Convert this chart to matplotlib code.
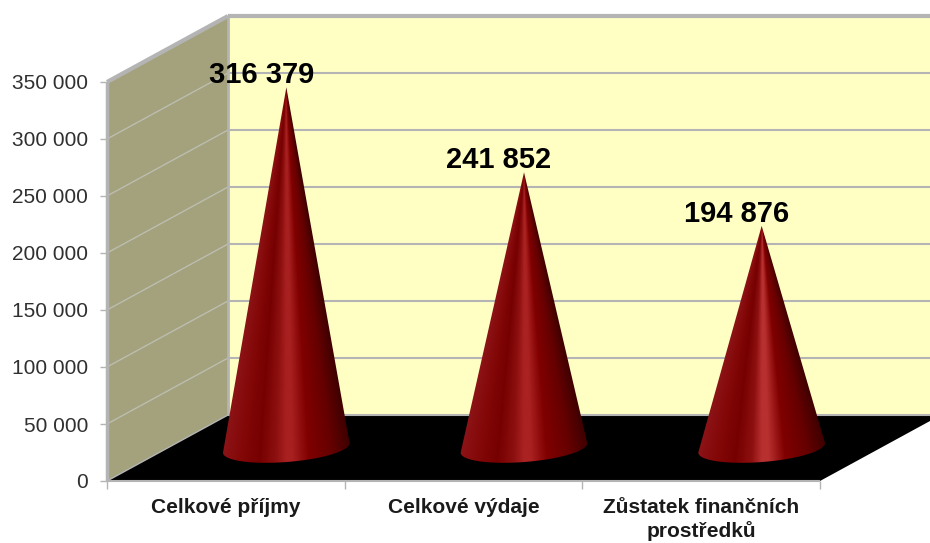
import numpy as np
import matplotlib
matplotlib.use('Agg')
import matplotlib.pyplot as plt
from matplotlib.patches import Polygon
from matplotlib.colors import to_rgb

# [1] Data
categories = ['Celkové příjmy', 'Celkové výdaje', 'Zůstatek finančních\nprostředků']
values = [316379, 241852, 194876]
value_labels = ['316 379', '241 852', '194 876']
y_ticks = [0, 50000, 100000, 150000, 200000, 250000, 300000, 350000]
y_tick_labels = ['0', '50 000', '100 000', '150 000', '200 000', '250 000', '300 000', '350 000']
highlights = ['#a82020', '#ab2222', '#b83030']

plt.rcParams['font.family'] = ['Liberation Sans', 'DejaVu Sans']

# [2] Axes = the front plane of the fake 3D box
W, H = 930, 543
fig = plt.figure(figsize=(W / 100, H / 100), dpi=100)
ax = fig.add_axes([107 / W, 1 - 481 / H, 713 / W, 399 / H])
ax.patch.set_visible(False)
for s in ax.spines.values():
    s.set_visible(False)

# data units per pixel
ux = 3 / 713
uy = 350000 / 399
# depth of the box
dx = 121 * ux
dy = 66 * uy
top = y_ticks[-1]

grey = '#b4b4b4'

# [3] Walls and floor
ax.fill([dx, 3 + dx, 3 + dx, dx], [dy, dy, top + dy, top + dy], color='#ffffc4', lw=0, zorder=1, clip_on=False)
ax.fill([0, dx, dx, 0], [0, dy, top + dy, top], color='#a3a27c', lw=0, zorder=1, clip_on=False)
ax.fill([0, 3, 3 + dx, dx], [0, 0, dy, dy], color='black', lw=0, zorder=2, clip_on=False)


def edge(xs, ys, lw, color=grey):
    ax.plot(xs, ys, color=color, lw=lw, zorder=3, clip_on=False, solid_capstyle='butt')


for v in y_ticks[1:-1]:
    edge([0, dx], [v, v + dy], 1.0, '#bdbdb0')
    edge([dx, 3 + dx], [v + dy, v + dy], 1.5)
edge([dx, 3 + dx], [top + dy, top + dy], 3)
edge([0, dx], [top, top + dy], 3)
edge([0, 0], [0, top], 2.5)
edge([dx, dx], [dy, top + dy], 2)
edge([0, dx], [0, dy], 1)
edge([dx, 3 + dx], [dy, dy], 1.5)
edge([0, 3], [0, 0], 1.5)


# [4] Cones: a gradient image clipped to the cone outline
def shade(s, hi):
    pos = [-1.0, -0.7, -0.4, -0.15, 0.0, 0.1, 0.35, 0.7, 1.0]
    cols = ['#8c1418', '#840808', '#760000', '#8e1010', hi, hi, '#800000', '#660000', '#400000']
    rgb = np.array([to_rgb(c) for c in cols])
    return np.dstack([np.interp(s, pos, rgb[:, k]) for k in range(3)])


half_w = 63.5 * ux
half_h = 14 * uy
theta = np.arctan(10 / 127)


def base_point(xc, yc, t):
    a, b = 63.5, 14
    px = a * np.cos(t) * np.cos(theta) + b * np.sin(t) * np.sin(theta)
    py = a * np.cos(t) * np.sin(theta) - b * np.sin(t) * np.cos(theta)
    return xc + px * ux, yc + py * uy


for i, v in enumerate(values):
    xc = i + 0.5 + dx / 2
    yc = dy / 2
    ytip = v + dy / 2

    x0, x1 = xc - 1.1 * half_w, xc + 1.1 * half_w
    y0, y1 = yc - 1.5 * half_h, ytip
    gx, gy = np.meshgrid(np.linspace(x0, x1, 400), np.linspace(y0, y1, 800))
    # position across the cone, measured along lines running up to the tip
    frac = np.clip((ytip - gy) / (ytip - yc), 1e-3, None)
    gs = np.clip((gx - xc) / (half_w * frac), -1, 1)
    img = ax.imshow(shade(gs, highlights[i]), extent=(x0, x1, y0, y1), origin='lower',
                    aspect='auto', interpolation='bilinear', zorder=5)

    bx, by = base_point(xc, yc, np.linspace(-0.08, np.pi + 0.08, 100))
    outline = Polygon(np.column_stack([np.r_[xc, bx], np.r_[ytip, by]]), transform=ax.transData)
    img.set_clip_path(outline)
    img.set_clip_box(fig.bbox)  # third cone pokes out past the axes

    ax.annotate(value_labels[i], xy=(xc, ytip), xytext=(-25 * 0.72, 12 * 0.72), textcoords='offset points',
                ha='center', va='center', fontsize=21, fontweight='bold', color='black', zorder=6)

ax.set_xlim(0, 3)
ax.set_ylim(0, top)

# [5] Ticks and labels
ax.set_yticks(y_ticks)
ax.set_yticklabels(y_tick_labels, fontsize=15, color='#303030')
ax.tick_params(axis='y', length=5, width=1, color=grey, pad=8.5)
ax.set_xticks([0, 1, 2, 3])
ax.set_xticklabels([])
ax.set_xticks([0.5, 1.5, 2.5], minor=True)
ax.set_xticklabels(categories, minor=True, fontsize=15, fontweight='bold', color='#1a1a1a', linespacing=1.25)
ax.tick_params(axis='x', which='major', length=6, width=1, color=grey)
ax.tick_params(axis='x', which='minor', length=0, pad=12)

fig.savefig('out.png', dpi=100)
